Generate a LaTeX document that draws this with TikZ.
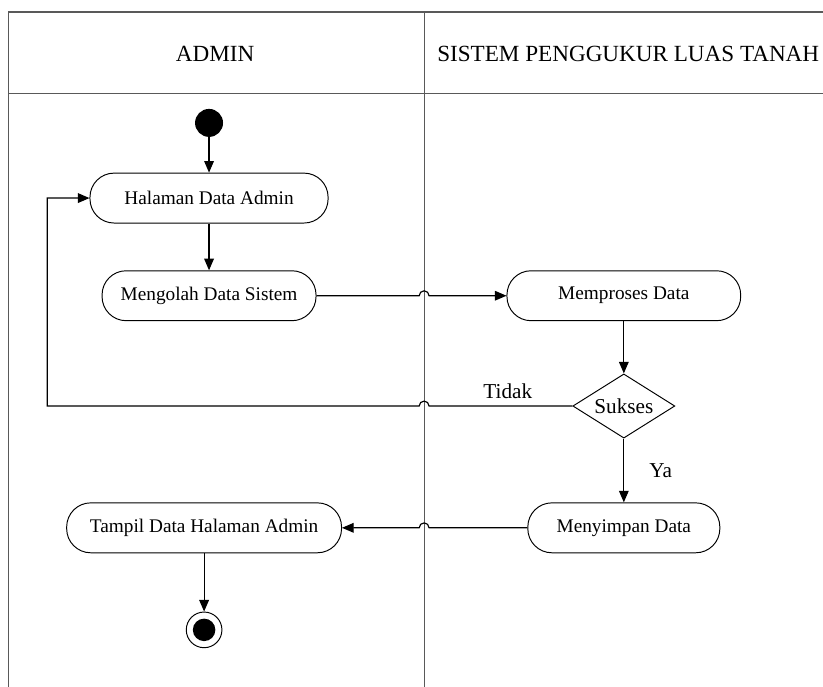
\documentclass[tikz,border=0pt]{standalone}
\usepackage{fontspec}
\setmainfont{Liberation Serif}
\usetikzlibrary{arrows.meta, positioning, calc, shapes.geometric}

\tikzset{
    act/.style={draw, rounded corners=12.5pt, minimum height=0.91cm, inner sep=2pt, line width=0.5pt, font=\fontsize{10}{12}\selectfont},
    cond/.style={draw, diamond, aspect=1.6, minimum width=1.86cm, minimum height=1.17cm, inner sep=0pt, line width=0.5pt, font=\fontsize{11}{13}\selectfont},
    flow/.style={line width=0.6pt, -{Triangle[length=6pt, width=5pt]}},
    lane/.style={draw=black!65, line width=0.6pt},
    lbl/.style={font=\fontsize{11}{13}\selectfont},
    head/.style={font=\fontsize{12}{14}\selectfont}
}

\begin{document}
\begin{tikzpicture}
        \useasboundingbox (0, 0) rectangle (15.0, -12.52);

        % swimlanes
        \draw[lane] (0.15, -12.6) |- (15.1, -0.22);
        \draw[lane] (0.15, -1.71) -- (15.1, -1.71);
        \draw[lane] (7.73, -0.22) -- (7.73, -12.6);
        \coordinate (divider) at (7.73, 0);
        \coordinate (back) at (0.86, 0);

        \node[head] (admin) at (3.92, -0.98) {ADMIN}; % lane 1
        \node[head] (sistem) at (11.45, -0.98) {SISTEM PENGGUKUR LUAS TANAH}; % lane 2

        \node[circle, fill, minimum size=0.51cm, inner sep=0pt] (start) at (3.81, -2.24) {}; % start
        \node[act, minimum width=4.34cm] (halaman) at (3.81, -3.61) {Halaman Data Admin}; % halaman
        \node[act, minimum width=3.90cm] (mengolah) at (3.81, -5.39) {Mengolah Data Sistem}; % mengolah
        \node[act, minimum width=4.26cm] (memproses) at (11.37, -5.39) {Memproses Data}; % memproses
        \node[cond] (sukses) at (11.37, -7.40) {Sukses}; % sukses
        \node[act, minimum width=3.50cm] (menyimpan) at (11.37, -9.62) {Menyimpan Data}; % menyimpan
        \node[act, minimum width=5.01cm] (tampil) at (3.72, -9.62) {Tampil Data Halaman Admin}; % tampil
        \node[circle, draw, line width=0.5pt, minimum size=0.65cm, inner sep=0pt] (finish) at (3.72, -11.48) {}; % end
        \node[circle, fill, minimum size=0.41cm, inner sep=0pt] (finishdot) at (finish) {};

        \draw[flow]
            (start) edge (halaman)
            (halaman) edge (mengolah)
            (memproses) edge (sukses)
            (sukses) edge node[lbl, right=0.34cm]{Ya} (menyimpan)
            (tampil) edge (finish)
            ;

        \draw[flow] (mengolah.east) -- ($(mengolah.east -| divider)+(-0.09,0)$)
            arc[start angle=180, end angle=0, radius=0.09] -- (memproses.west);
        \draw[flow] (sukses.west) -- node[lbl, above, pos=0.45]{Tidak} ($(sukses.west -| divider)+(0.09,0)$)
            arc[start angle=0, end angle=180, radius=0.09] -- (sukses.west -| back) |- (halaman.west);
        \draw[flow] (menyimpan.west) -- ($(menyimpan.west -| divider)+(0.09,0)$)
            arc[start angle=0, end angle=180, radius=0.09] -- (tampil.east);
    \end{tikzpicture}
\end{document}
